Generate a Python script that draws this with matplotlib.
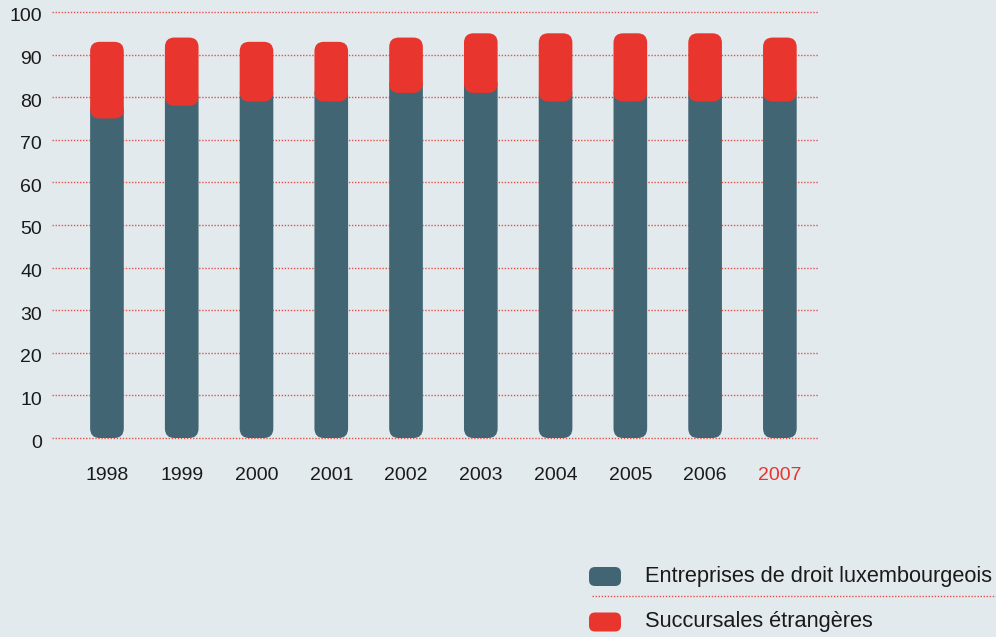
import matplotlib.pyplot as plt
from matplotlib.patches import FancyBboxPatch
from matplotlib.transforms import ScaledTranslation
from matplotlib.lines import Line2D

# Colours
BG = "#e3eaed"
DARK = "#426574"
RED = "#e8352d"
TEXT = "#1a1a1a"

# Data (share of companies, %)
years = ["1998", "1999", "2000", "2001", "2002", "2003", "2004", "2005", "2006", "2007"]
lux = [75, 78, 79, 79, 81, 81, 79, 79, 79, 79]
foreign = [18, 16, 14, 14, 13, 14, 16, 16, 16, 15]
yticks = [0, 10, 20, 30, 40, 50, 60, 70, 80, 90, 100]
legend_labels = ["Entreprises de droit luxembourgeois", "Succursales étrangères"]

plt.rcParams["font.family"] = ["Liberation Sans", "DejaVu Sans"]

W, H = 996, 637
fig = plt.figure(figsize=(W / 100, H / 100), dpi=100, facecolor=BG)
ax = fig.add_axes([52 / W, (H - 438) / H, 766 / W, 426 / H])
ax.set_facecolor(BG)

xlim = (-0.735, 9.51)
ylim = (0, 100)
ax.set_xlim(*xlim)
ax.set_ylim(*ylim)

# aspect ratio between data units so rounded corners look round
x_per_px = (xlim[1] - xlim[0]) / 766
y_per_px = (ylim[1] - ylim[0]) / 426
aspect = y_per_px / x_per_px

bar_w = 0.45
rad = 9.5 * x_per_px
overlap = 4  # dark bar continues under the red cap

for i, (l, f) in enumerate(zip(lux, foreign)):
    dark = FancyBboxPatch((i - bar_w / 2, 0), bar_w, l + overlap,
                          boxstyle=f"round,pad=0,rounding_size={rad}",
                          mutation_aspect=aspect, fc=DARK, ec="none",
                          zorder=2, clip_on=False)
    red = FancyBboxPatch((i - bar_w / 2, l), bar_w, f,
                         boxstyle=f"round,pad=0,rounding_size={rad}",
                         mutation_aspect=aspect, fc=RED, ec="none",
                         zorder=3, clip_on=False)
    ax.add_patch(dark)
    ax.add_patch(red)

# dotted grid
for v in yticks:
    ax.axhline(v, color=RED, lw=1, ls=(0, (1, 1.2)), alpha=0.85,
               zorder=1, clip_on=False)

for s in ax.spines.values():
    s.set_visible(False)

# y labels (slightly below their gridline)
ax.set_yticks([])
off = ScaledTranslation(-10 / 100, -5 / 100, fig.dpi_scale_trans)
for v in yticks:
    ax.text(0, v, str(v), transform=ax.get_yaxis_transform() + off,
            ha="right", va="center", fontsize=14, color=TEXT)

ax.set_xticks(range(len(years)))
ax.set_xticklabels(years, fontsize=14, color=TEXT)
ax.tick_params(axis="x", length=0, pad=21)
ax.get_xticklabels()[-1].set_color(RED)

# legend at bottom right
inch = fig.dpi_scale_trans
for (y_px, col, lab) in [(576.5, DARK, legend_labels[0]), (622, RED, legend_labels[1])]:
    sw = FancyBboxPatch((589 / 100, (H - y_px - 9.5) / 100), 32 / 100, 19 / 100,
                        boxstyle="round,pad=0,rounding_size=0.06",
                        transform=inch, fc=col, ec="none")
    fig.add_artist(sw)
    fig.text(645 / W, (H - y_px) / H, lab, ha="left", va="center",
             fontsize=15.7, color=TEXT)

fig.add_artist(Line2D([592 / W, 1.0], [(H - 596) / H] * 2, transform=fig.transFigure,
                      color=RED, lw=1, ls=(0, (1, 1.2)), alpha=0.85))

fig.savefig("out.png", dpi=100, facecolor=BG)
